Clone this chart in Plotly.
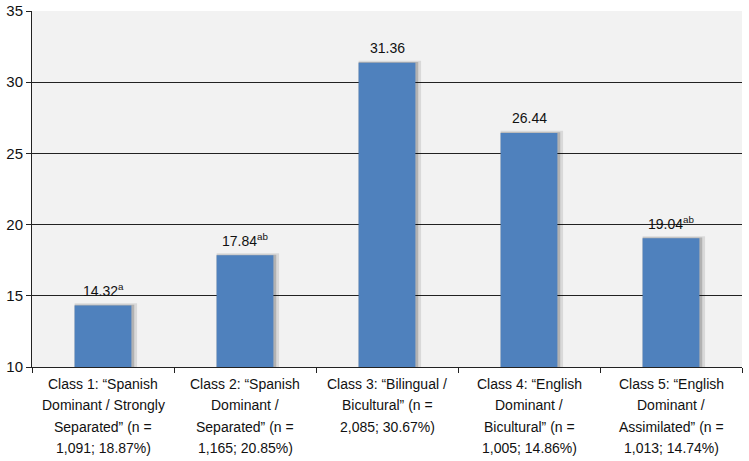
import plotly.graph_objects as go

categories = ["Class 1", "Class 2", "Class 3", "Class 4", "Class 5"]
category_lines = [
    ["Class 1: \u201cSpanish", "Dominant / Strongly", "Separated\u201d (n =", "1,091; 18.87%)"],
    ["Class 2: \u201cSpanish", "Dominant /", "Separated\u201d (n =", "1,165; 20.85%)"],
    ["Class 3: \u201cBilingual /", "Bicultural\u201d (n =", "2,085; 30.67%)"],
    ["Class 4: \u201cEnglish", "Dominant /", "Bicultural\u201d (n =", "1,005; 14.86%)"],
    ["Class 5: \u201cEnglish", "Dominant /", "Assimilated\u201d (n =", "1,013; 14.74%)"],
]
values = [14.32, 17.84, 31.36, 26.44, 19.04]
superscripts = ["a", "ab", "", "", "ab"]

bar_color = "#4f81bd"
font = "Liberation Sans, Arial, sans-serif"

fig = go.Figure()

# soft drop shadow behind each bar
fig.add_trace(go.Bar(
    x=categories, y=[v - 9.85 for v in values], base=10,
    width=0.44, offset=-0.2,
    marker=dict(color="rgba(0,0,0,0.10)", line=dict(width=0)),
    hoverinfo="skip",
))
fig.add_trace(go.Bar(
    x=categories, y=[v - 9.95 for v in values], base=10,
    width=0.42, offset=-0.2,
    marker=dict(color="rgba(0,0,0,0.18)", line=dict(width=0)),
    hoverinfo="skip",
))
fig.add_trace(go.Bar(
    x=categories, y=[v - 10 for v in values], base=10,
    width=0.4, offset=-0.2,
    marker=dict(color=bar_color, line=dict(width=0)),
))

for c, v, s in zip(categories, values, superscripts):
    label = f"{v:.2f}" + (f"<sup>{s}</sup>" if s else "")
    fig.add_annotation(x=c, y=v, text=label, showarrow=False, yshift=15,
                       font=dict(size=14, color="#111111", family=font))

# category labels, one line per annotation to get the wider line spacing
for c, lines in zip(categories, category_lines):
    for i, line in enumerate(lines):
        fig.add_annotation(x=c, y=0, yref="paper", text=line, showarrow=False,
                           yanchor="middle", yshift=-17 - 21.3 * i,
                           font=dict(size=14, color="#111111", family=font))

fig.update_layout(
    width=749, height=461,
    margin=dict(l=32, r=7, t=11, b=94),
    barmode="overlay",
    showlegend=False,
    paper_bgcolor="white",
    plot_bgcolor="#f2f2f2",
    font=dict(family=font, color="#111111"),
)
fig.update_xaxes(
    type="category", tickson="boundaries", ticks="outside", ticklen=5,
    tickcolor="#222222", showline=True, linecolor="#222222", linewidth=1,
    showticklabels=False, showgrid=False, automargin=False,
)
fig.update_yaxes(
    range=[10, 35], dtick=5, ticks="outside", ticklen=5, tickcolor="#222222",
    showline=True, linecolor="#222222", linewidth=1, automargin=False,
    gridcolor="#222222", gridwidth=1, tickfont=dict(size=15), zeroline=False,
    ticklabelstandoff=0,
)

fig.write_html("out.html", config={"displayModeBar": False},
               post_script="document.body.style.margin='0';")
